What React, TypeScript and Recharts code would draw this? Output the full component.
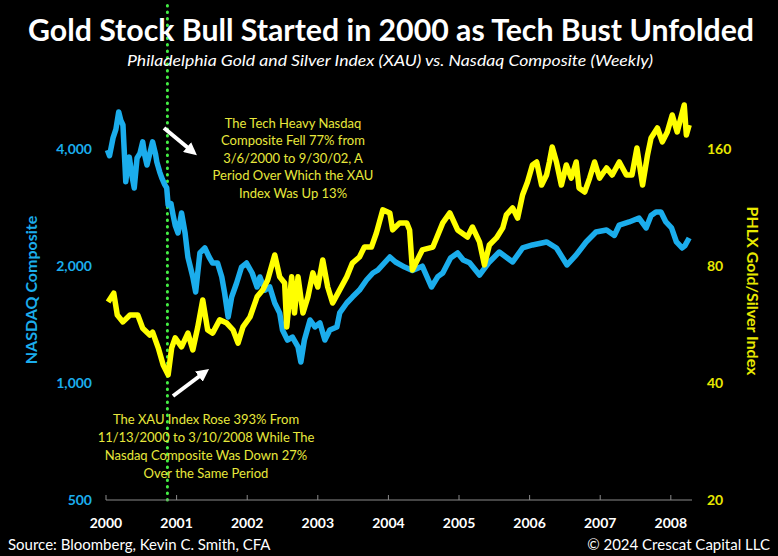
import React from "react"
import { LineChart, Line, XAxis, YAxis, ReferenceLine } from "recharts"

// samples (decimal years)
const nasdaqDates = [
  2000.02, 2000.05, 2000.1, 2000.14, 2000.18, 2000.21, 2000.24, 2000.27, 2000.28, 2000.31,
  2000.33, 2000.37, 2000.4, 2000.44, 2000.48, 2000.52, 2000.55, 2000.58, 2000.62, 2000.66,
  2000.7, 2000.72, 2000.76, 2000.79, 2000.83, 2000.86, 2000.88, 2000.92, 2000.95, 2000.98,
  2001.02, 2001.07, 2001.12, 2001.16, 2001.23, 2001.27, 2001.33, 2001.4, 2001.46, 2001.51,
  2001.58, 2001.64, 2001.68, 2001.73, 2001.78, 2001.85, 2001.92, 2001.99, 2002.07, 2002.14,
  2002.18, 2002.25, 2002.32, 2002.39, 2002.46, 2002.5, 2002.57, 2002.64, 2002.72, 2002.76,
  2002.81, 2002.89, 2002.96, 2003.03, 2003.1, 2003.17, 2003.27, 2003.31, 2003.41, 2003.49,
  2003.59, 2003.69, 2003.78, 2003.85, 2004.02, 2004.1, 2004.23, 2004.34, 2004.48, 2004.61,
  2004.7, 2004.77, 2004.88, 2004.98, 2005.06, 2005.15, 2005.29, 2005.43, 2005.57, 2005.76,
  2005.9, 2006.04, 2006.24, 2006.38, 2006.53, 2006.66, 2006.8, 2006.94, 2007.09, 2007.2,
  2007.27, 2007.41, 2007.55, 2007.65, 2007.72, 2007.79, 2007.86, 2007.93, 2008.01, 2008.08,
  2008.16, 2008.2, 2008.26,
]
const nasdaqValues = [
  3980, 3850, 4280, 4500, 4990, 4750, 4620, 3600, 3300, 3700,
  3820, 3400, 3180, 3800, 3900, 4180, 3850, 3645, 3900, 4180,
  3900, 3710, 3500, 3375, 3250, 3180, 2875, 2900, 2710, 2550,
  2435, 2742, 2435, 2112, 1876, 1716, 2163, 2228, 2112, 2038,
  2038, 1876, 1706, 1480, 1666, 1810, 1990, 2038, 1921, 1768,
  1876, 1736, 1768, 1608, 1516, 1370, 1291, 1314, 1239, 1133,
  1291, 1454, 1395, 1428, 1291, 1370, 1395, 1516, 1608, 1666,
  1736, 1843, 1921, 1955, 2112, 2050, 1990, 1950, 2000, 1768,
  1880, 1921, 2100, 2163, 2075, 2040, 1898, 2051, 2175, 2051,
  2228, 2268, 2309, 2228, 2015, 2138, 2309, 2450, 2479, 2400,
  2553, 2600, 2661, 2509, 2700, 2759, 2759, 2600, 2509, 2309,
  2228, 2260, 2364,
]

const xauDates = [
  2000.03, 2000.11, 2000.16, 2000.24, 2000.34, 2000.45, 2000.52, 2000.62, 2000.66, 2000.74,
  2000.81, 2000.88, 2000.93, 2000.98, 2001.07, 2001.16, 2001.23, 2001.3, 2001.37, 2001.44,
  2001.51, 2001.61, 2001.71, 2001.8, 2001.87, 2001.94, 2002.04, 2002.14, 2002.22, 2002.29,
  2002.39, 2002.46, 2002.53, 2002.56, 2002.63, 2002.67, 2002.72, 2002.79, 2002.86, 2002.93,
  2003.0, 2003.07, 2003.14, 2003.21, 2003.31, 2003.41, 2003.49, 2003.59, 2003.66, 2003.76,
  2003.83, 2003.92, 2004.02, 2004.06, 2004.16, 2004.26, 2004.3, 2004.34, 2004.48, 2004.63,
  2004.77, 2004.87, 2004.98, 2005.12, 2005.19, 2005.29, 2005.36, 2005.43, 2005.53, 2005.62,
  2005.67, 2005.76, 2005.83, 2005.9, 2005.97, 2006.04, 2006.1, 2006.17, 2006.24, 2006.28,
  2006.32, 2006.38, 2006.45, 2006.52, 2006.59, 2006.66, 2006.7, 2006.78, 2006.85, 2006.92,
  2006.99, 2007.09, 2007.17, 2007.27, 2007.37, 2007.45, 2007.52, 2007.6, 2007.67, 2007.72,
  2007.81, 2007.88, 2007.95, 2008.02, 2008.09, 2008.19, 2008.22, 2008.26,
]
const xauValues = [
  64.7, 68.2, 59.9, 57.5, 59.9, 59.9, 55.4, 53.2, 54.1, 49.3,
  44.5, 42.0, 49.3, 52.3, 49.6, 53.8, 48.7, 55.8, 65.5, 54.8,
  53.8, 58.2, 57.1, 54.8, 50.7, 55.8, 59.2, 66.7, 69.5, 73.7,
  85.5, 75.1, 72.4, 55.8, 75.1, 60.6, 75.1, 60.6, 66.7, 76.9,
  70.7, 83.0, 70.7, 64.3, 69.5, 75.1, 81.5, 84.5, 89.6, 89.6,
  97.4, 111.7, 109.7, 99.2, 103.4, 103.4, 99.2, 78.2, 88.1, 89.6,
  103.4, 109.7, 99.2, 95.1, 100.9, 92.4, 80.6, 90.7, 94.6, 100.4,
  108.4, 113.0, 106.4, 122.0, 131.8, 145.8, 148.4, 129.4, 137.4, 148.4,
  162.2, 148.4, 129.4, 145.8, 134.9, 148.4, 127.2, 124.2, 134.9, 148.4,
  134.9, 143.2, 137.4, 148.4, 137.4, 137.4, 161.2, 129.4, 154.7, 171.1,
  181.5, 167.2, 177.3, 196.1, 177.3, 208.1, 174.1, 184.8,
]

const yearTicks = [2000, 2001, 2002, 2003, 2004, 2005, 2006, 2007, 2008]
const nasdaqTicks = [500, 1000, 2000, 4000]
const xauTicks = [20, 40, 80, 160]

const nasdaqData = nasdaqDates.map((t, i) => ({ t, v: nasdaqValues[i] }))
const xauData = xauDates.map((t, i) => ({ t, v: xauValues[i] }))

const BLUE = "#1badec"
const YELLOW = "#ffff00"
const NOTE = "#e8e83c"
const FONT = "Lato, 'Open Sans', sans-serif"

function YearTick(props: any) {
  const { x, y, payload } = props
  return (
    <g>
      <line x1={x} x2={x} y1={y - 5} y2={y} stroke="#8a8a8a" strokeWidth={1} />
      <text x={x} y={y + 28} textAnchor="middle" fill="#fff" fontSize={14} fontWeight={700} fontFamily={FONT}>
        {payload.value}
      </text>
    </g>
  )
}

export default function App() {
  return (
    <div style={{ position: "absolute", left: 0, top: 0, width: 778, height: 556, background: "#000", overflow: "hidden" }}>
      <LineChart width={778} height={556} margin={{ top: 5, right: 0, bottom: 0, left: 0 }}>
        <XAxis
          dataKey="t"
          type="number"
          domain={[2000, 2008.3]}
          ticks={yearTicks}
          allowDuplicatedCategory={false}
          height={56}
          tickSize={0}
          tickMargin={0}
          axisLine={{ stroke: "#8a8a8a", strokeWidth: 1 }}
          tick={<YearTick />}
        />
        <YAxis
          yAxisId="left"
          orientation="left"
          width={106}
          scale="log"
          type="number"
          domain={[500, 9411]}
          allowDataOverflow
          ticks={nasdaqTicks}
          tickFormatter={(v: number) => v.toLocaleString("en-US")}
          axisLine={false}
          tickLine={false}
          tickSize={0}
          tickMargin={14}
          tick={{ fill: BLUE, fontSize: 14, fontWeight: 700, fontFamily: FONT }}
        />
        <YAxis
          yAxisId="right"
          orientation="right"
          width={86}
          scale="log"
          type="number"
          domain={[20, 376.4]}
          allowDataOverflow
          ticks={xauTicks}
          axisLine={false}
          tickLine={false}
          tickSize={0}
          tickMargin={15}
          tick={{ fill: "#e8e800", fontSize: 14, fontWeight: 700, fontFamily: FONT }}
        />
        <ReferenceLine
          yAxisId="left"
          x={2000.87}
          stroke="#44ee44"
          strokeWidth={3}
          strokeLinecap="round"
          strokeDasharray="0.5 6"
        />
        <Line
          yAxisId="left"
          data={nasdaqData}
          dataKey="v"
          type="linear"
          stroke={BLUE}
          strokeWidth={5.5}
          dot={false}
          strokeLinejoin="round"
          isAnimationActive={false}
        />
        <Line
          yAxisId="right"
          data={xauData}
          dataKey="v"
          type="linear"
          stroke={YELLOW}
          strokeWidth={5.5}
          dot={false}
          strokeLinejoin="round"
          isAnimationActive={false}
        />
      </LineChart>

      <svg width={778} height={556} style={{ position: "absolute", left: 0, top: 0, pointerEvents: "none" }}>
        <defs>
          <marker id="head" viewBox="0 0 10 10" refX="6" refY="5" markerWidth="3.2" markerHeight="3.2" orient="auto">
            <path d="M0,0 L10,5 L0,10 z" fill="#fff" />
          </marker>
        </defs>
        <text x={391} y={41} textAnchor="middle" fill="#fff" fontSize={30} fontWeight={700} fontFamily={FONT}
          textLength={726} lengthAdjust="spacingAndGlyphs">
          Gold Stock Bull Started in 2000 as Tech Bust Unfolded
        </text>
        <text x={390} y={66} textAnchor="middle" fill="#fff" fontSize={16} fontStyle="italic" fontFamily={FONT}
          textLength={526} lengthAdjust="spacingAndGlyphs">
          Philadelphia Gold and Silver Index (XAU) vs. Nasdaq Composite (Weekly)
        </text>

        <text transform="translate(37,290) rotate(-90)" textAnchor="middle" fill={BLUE} fontSize={16} fontWeight={700} fontFamily={FONT}>
          NASDAQ Composite
        </text>
        <text transform="translate(747,291) rotate(90)" textAnchor="middle" fill="#e8e800" fontSize={16} fontWeight={700} fontFamily={FONT}>
          PHLX Gold/Silver Index
        </text>

        <g fill={NOTE} fontSize={13} fontFamily={FONT} textAnchor="middle">
          <text x={293} y={128}>The Tech Heavy Nasdaq</text>
          <text x={293} y={145}>Composite Fell 77% from</text>
          <text x={293} y={163}>3/6/2000 to 9/30/02, A</text>
          <text x={293} y={180}>Period Over Which the XAU</text>
          <text x={293} y={198}>Index Was Up 13%</text>
        </g>
        <g fill={NOTE} fontSize={13} fontFamily={FONT} textAnchor="middle">
          <text x={206} y={424}>The XAU Index Rose 393% From</text>
          <text x={206} y={442}>11/13/2000 to 3/10/2008 While The</text>
          <text x={206} y={460}>Nasdaq Composite Was Down 27%</text>
          <text x={206} y={478}>Over the Same Period</text>
        </g>

        <line x1={164} y1={128} x2={193} y2={152} stroke="#fff" strokeWidth={4} markerEnd="url(#head)" />
        <line x1={173} y1={396} x2={205} y2={372} stroke="#fff" strokeWidth={4} markerEnd="url(#head)" />

        <text x={8} y={550} fill="#fff" fontSize={15} fontFamily={FONT}>
          Source: Bloomberg, Kevin C. Smith, CFA
        </text>
        <text x={770} y={550} textAnchor="end" fill="#fff" fontSize={15} fontFamily={FONT}>
          © 2024 Crescat Capital LLC
        </text>
      </svg>
    </div>
  )
}
